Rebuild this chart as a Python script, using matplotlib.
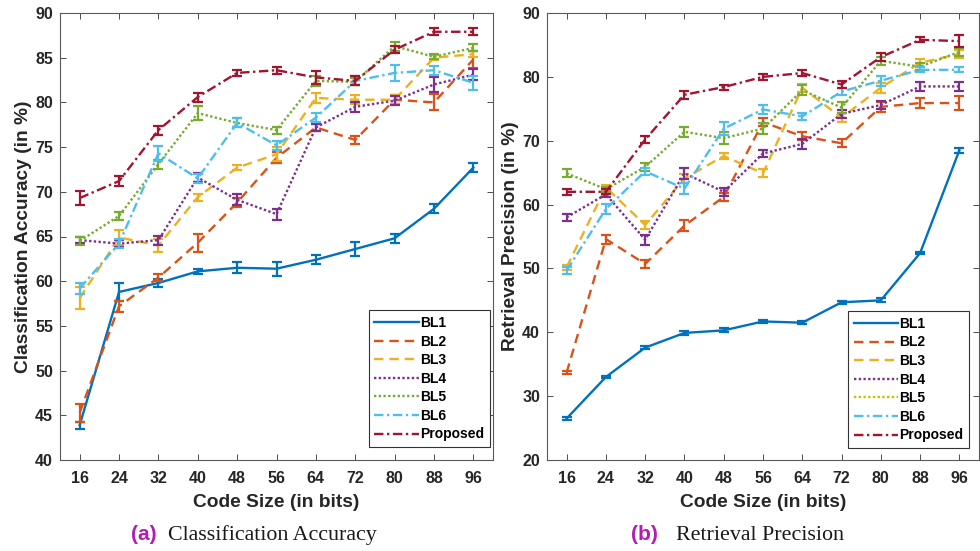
import numpy as np
import matplotlib
matplotlib.use("Agg")
import matplotlib.pyplot as plt

plt.rcParams['font.family'] = ['Liberation Sans', 'DejaVu Sans']

# code sizes (bits)
code_sizes = [16, 24, 32, 40, 48, 56, 64, 72, 80, 88, 96]
methods = ['BL1', 'BL2', 'BL3', 'BL4', 'BL5', 'BL6', 'Proposed']

# (a) classification accuracy, mean and half error
acc_bl1 = [43.9, 58.8, 59.8, 61.1, 61.5, 61.4, 62.4, 63.6, 64.8, 68.1, 72.7]
acc_bl2 = [45.3, 57.2, 60.4, 64.3, 68.8, 73.8, 77.2, 75.8, 80.3, 80.0, 84.8]
acc_bl3 = [58.1, 64.9, 64.0, 69.4, 72.7, 74.2, 80.5, 80.3, 80.3, 85.0, 85.4]
acc_bl4 = [64.6, 64.2, 64.6, 71.6, 69.1, 67.5, 77.2, 79.5, 80.2, 82.0, 83.1]
acc_bl5 = [64.5, 67.3, 73.1, 78.8, 77.7, 76.9, 82.4, 82.3, 86.3, 85.1, 86.1]
acc_bl6 = [59.2, 64.2, 74.3, 71.5, 77.7, 75.2, 78.3, 82.4, 83.3, 83.6, 82.2]
acc_prop = [69.3, 71.2, 76.9, 80.6, 83.3, 83.6, 82.8, 82.4, 85.9, 87.9, 87.9]

acc_err_bl1 = [0.4, 1.0, 0.5, 0.3, 0.6, 0.8, 0.5, 0.8, 0.5, 0.5, 0.5]
acc_err_bl2 = [1.0, 0.6, 0.4, 1.0, 0.5, 0.6, 0.4, 0.4, 0.5, 0.9, 1.0]
acc_err_bl3 = [1.2, 0.8, 0.7, 0.4, 0.3, 0.8, 0.6, 0.5, 0.5, 0.3, 0.3]
acc_err_bl4 = [0.3, 0.4, 0.5, 0.5, 0.6, 0.6, 0.4, 0.6, 0.5, 0.8, 0.6]
acc_err_bl5 = [0.5, 0.4, 0.5, 0.8, 0.5, 0.4, 0.6, 0.4, 0.5, 0.3, 0.4]
acc_err_bl6 = [0.6, 0.5, 0.8, 0.5, 0.5, 0.5, 0.5, 0.5, 0.9, 0.5, 0.8]
acc_err_prop = [0.8, 0.6, 0.5, 0.5, 0.3, 0.4, 0.7, 0.5, 0.4, 0.4, 0.4]

# (b) retrieval precision
prec_bl1 = [26.5, 33.0, 37.6, 39.9, 40.3, 41.7, 41.5, 44.7, 45.0, 52.4, 68.5]
prec_bl2 = [33.7, 54.6, 50.7, 56.7, 61.2, 72.9, 70.7, 69.6, 75.3, 75.9, 75.9]
prec_bl3 = [50.2, 62.7, 56.8, 64.1, 67.6, 64.9, 78.3, 73.6, 78.3, 82.2, 83.6]
prec_bl4 = [58.0, 61.6, 54.5, 64.9, 62.0, 68.0, 69.5, 74.2, 75.6, 78.5, 78.5]
prec_bl5 = [64.9, 62.4, 65.9, 71.4, 70.4, 71.9, 77.9, 75.2, 82.5, 81.6, 83.9]
prec_bl6 = [49.7, 59.3, 65.2, 62.5, 71.9, 74.9, 73.8, 77.7, 79.4, 81.1, 81.1]
prec_prop = [62.0, 62.0, 70.2, 77.2, 78.4, 80.0, 80.6, 78.8, 83.1, 85.8, 85.6]

prec_err_bl1 = [0.2, 0.2, 0.2, 0.3, 0.3, 0.3, 0.2, 0.2, 0.3, 0.2, 0.4]
prec_err_bl2 = [0.3, 0.7, 0.6, 0.9, 0.6, 0.6, 0.6, 0.6, 0.8, 0.8, 1.1]
prec_err_bl3 = [0.4, 0.4, 0.7, 0.7, 0.5, 0.6, 0.6, 0.7, 0.8, 0.6, 0.6]
prec_err_bl4 = [0.6, 0.4, 0.8, 0.9, 0.6, 0.6, 0.8, 0.6, 0.6, 0.7, 0.7]
prec_err_bl5 = [0.6, 0.4, 0.6, 0.8, 0.9, 0.8, 0.8, 0.8, 0.6, 0.5, 0.6]
prec_err_bl6 = [0.6, 0.8, 0.5, 0.8, 1.0, 0.7, 0.5, 0.5, 0.8, 0.4, 0.4]
prec_err_prop = [0.5, 0.4, 0.5, 0.6, 0.4, 0.5, 0.4, 0.5, 0.6, 0.4, 0.9]

acc_means = [acc_bl1, acc_bl2, acc_bl3, acc_bl4, acc_bl5, acc_bl6, acc_prop]
acc_errs = [acc_err_bl1, acc_err_bl2, acc_err_bl3, acc_err_bl4, acc_err_bl5, acc_err_bl6, acc_err_prop]
prec_means = [prec_bl1, prec_bl2, prec_bl3, prec_bl4, prec_bl5, prec_bl6, prec_prop]
prec_errs = [prec_err_bl1, prec_err_bl2, prec_err_bl3, prec_err_bl4, prec_err_bl5, prec_err_bl6, prec_err_prop]

# MATLAB default colour order
colors = ['#0072BD', '#D95319', '#EDB120', '#7E2F8E', '#77AC30', '#4DBEEE', '#A2142F']
styles = ['-', (0, (4, 2.5)), (0, (4, 2.5)), (0, (1, 1)), (0, (1, 1)), (0, (4, 1.5, 1, 1.5)), (0, (4, 1.5, 1, 1.5))]

fig = plt.figure(figsize=(9.8, 5.51), dpi=100)
ax1 = fig.add_axes([60 / 980, 91 / 551, 433 / 980, 447 / 551])
ax2 = fig.add_axes([547 / 980, 91 / 551, 432 / 980, 447 / 551])

text_col = '#262626'


def draw_panel(ax, means, errs, ylim, yticks, ylabel, leg_anchor):
    for m, e, c, ls, name in zip(means, errs, colors, styles, methods):
        ax.errorbar(code_sizes, m, yerr=e, fmt='none', ecolor=c, elinewidth=1.6,
                    capsize=3.5, capthick=1.6, zorder=3)
        ax.plot(code_sizes, m, color=c, linestyle=ls, linewidth=1.7, label=name, zorder=3)
    ax.set_xlim(12, 100)
    ax.set_ylim(*ylim)
    ax.set_xticks(code_sizes)
    ax.set_yticks(yticks)
    ax.tick_params(direction='in', top=True, right=True, length=4, width=0.7,
                   color='0.3', labelsize=11.5, labelcolor=text_col, pad=5)
    ax.tick_params(axis='x', pad=8)
    for lab in ax.get_xticklabels() + ax.get_yticklabels():
        lab.set_fontweight('bold')
    for sp in ax.spines.values():
        sp.set_color('0.35')
        sp.set_linewidth(0.8)
    ax.set_xlabel('Code Size (in bits)', fontsize=13.8, fontweight='bold', color=text_col, labelpad=6)
    ax.set_ylabel(ylabel, fontsize=13.8, fontweight='bold', color=text_col, labelpad=2)
    leg = ax.legend(loc='lower right', bbox_to_anchor=leg_anchor,
                    prop={'weight': 'bold', 'size': 10}, handlelength=3.2,
                    handletextpad=0.1, labelspacing=0.33, borderpad=0.4,
                    fancybox=False, framealpha=1, edgecolor='0.2', borderaxespad=0)
    leg.get_frame().set_linewidth(0.8)
    return leg


draw_panel(ax1, acc_means, acc_errs, (40, 90), np.arange(40, 91, 5),
           'Classification Accuracy (in %)', (0.993, 0.029))
leg2 = draw_panel(ax2, prec_means, prec_errs, (20, 90), np.arange(20, 91, 10),
                  'Retrieval Precision (in %)', (0.977, 0.027))
# the right legend shows BL5 in olive yellow
leg2.legend_handles[4].set_color('#C2C200')

cap_y = 16 / 551
magenta = '#B41CB4'
fig.text(131 / 980, cap_y, '(a)', color=magenta, fontsize=15, fontweight='bold', va='center', ha='left')
fig.text(168 / 980, cap_y, 'Classification Accuracy', family='Liberation Serif', fontsize=15.8,
         color='#1a1a1a', va='center', ha='left')
fig.text(631 / 980, cap_y, '(b)', color=magenta, fontsize=15, fontweight='bold', va='center', ha='left')
fig.text(676 / 980, cap_y, 'Retrieval Precision', family='Liberation Serif', fontsize=15.8,
         color='#1a1a1a', va='center', ha='left')

fig.savefig('out.png', dpi=100)
